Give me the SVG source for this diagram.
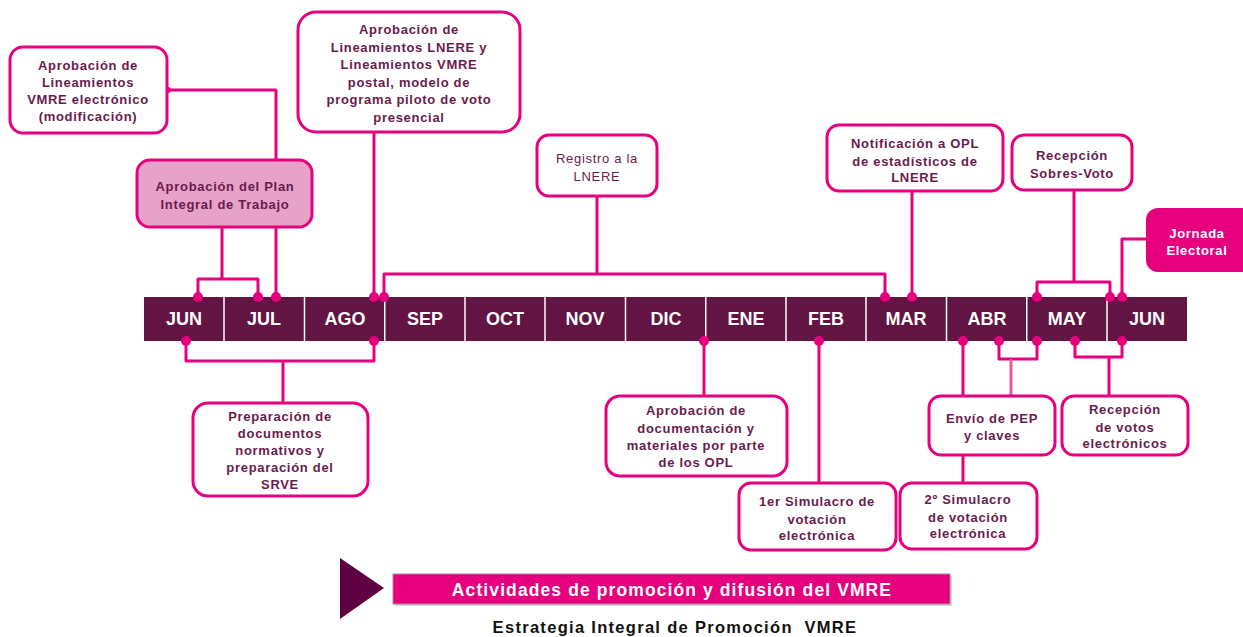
<svg xmlns="http://www.w3.org/2000/svg" width="1243" height="637" viewBox="0 0 1243 637">
<style>
.box{fill:#fff;stroke:#E6007E;stroke-width:3}
.t{font-family:"Liberation Sans",Arial,sans-serif;font-weight:bold;font-size:13px;fill:#6A1B4D;text-anchor:middle;letter-spacing:0.7px}
.n{font-weight:normal}
.w{fill:#fff}
.m{font-family:"Liberation Sans",Arial,sans-serif;font-weight:bold;font-size:18px;fill:#fff;text-anchor:middle}
.c{fill:none;stroke:#E6007E;stroke-width:3;stroke-linejoin:round}
.cl{fill:none;stroke:#E55AA8;stroke-width:3}
.d{fill:#E6007E}
.div{stroke:#fff;stroke-width:1.5}
</style>
<rect width="1243" height="637" fill="#fff"/>
<g id="connectors">
<path class="c" d="M167,90 H276 V297"/>
<path class="c" d="M222,227 V279 M198,297 V279 H258 V297"/>
<path class="c" d="M374,132 V297"/>
<path class="c" d="M597,196 V274 M384,297 V274 H885 V297"/>
<path class="c" d="M912,191 V297"/>
<path class="c" d="M1074,190 V282 M1037,297 V282 H1110 V297"/>
<path class="c" d="M1146,239 H1122 V297"/>
<path class="c" d="M186,341 V361 H374 V341 M283,361 V403"/>
<path class="c" d="M704,341 V396"/>
<path class="c" d="M819,341 V483"/>
<path class="c" d="M963,341 V396 M963,455 V483"/>
<path class="c" d="M999,341 V359 H1037 V341"/>
<path class="cl" d="M1011,359 V396"/>
<path class="c" d="M1075,341 V357 H1122 V341 M1109,357 V396"/>
</g>
<g id="timeline">
<rect x="144" y="297" width="1043" height="44" fill="#621442"/>
<g class="div">
<line x1="224" y1="297" x2="224" y2="341"/><line x1="304.5" y1="297" x2="304.5" y2="341"/>
<line x1="384.75" y1="297" x2="384.75" y2="341"/><line x1="465" y1="297" x2="465" y2="341"/>
<line x1="545" y1="297" x2="545" y2="341"/><line x1="625.5" y1="297" x2="625.5" y2="341"/>
<line x1="705.75" y1="297" x2="705.75" y2="341"/><line x1="786" y1="297" x2="786" y2="341"/>
<line x1="866" y1="297" x2="866" y2="341"/><line x1="946.5" y1="297" x2="946.5" y2="341"/>
<line x1="1026.75" y1="297" x2="1026.75" y2="341"/><line x1="1107" y1="297" x2="1107" y2="341"/>
</g>
<text class="m" x="184" y="325">JUN</text>
<text class="m" x="264" y="325">JUL</text>
<text class="m" x="345" y="325">AGO</text>
<text class="m" x="425" y="325">SEP</text>
<text class="m" x="505" y="325">OCT</text>
<text class="m" x="585" y="325">NOV</text>
<text class="m" x="666" y="325">DIC</text>
<text class="m" x="746" y="325">ENE</text>
<text class="m" x="826" y="325">FEB</text>
<text class="m" x="906" y="325">MAR</text>
<text class="m" x="987" y="325">ABR</text>
<text class="m" x="1067" y="325">MAY</text>
<text class="m" x="1147" y="325">JUN</text>
</g>
<g id="dots">
<circle class="d" cx="198" cy="297" r="5"/><circle class="d" cx="258" cy="297" r="5"/>
<circle class="d" cx="276" cy="297" r="5"/><circle class="d" cx="374" cy="297" r="5"/>
<circle class="d" cx="384" cy="297" r="5"/><circle class="d" cx="885" cy="297" r="5"/>
<circle class="d" cx="912" cy="297" r="5"/><circle class="d" cx="1037" cy="297" r="5"/>
<circle class="d" cx="1110" cy="297" r="5"/><circle class="d" cx="1122" cy="297" r="5"/>
<circle class="d" cx="186" cy="341" r="5"/><circle class="d" cx="374" cy="341" r="5"/>
<circle class="d" cx="704" cy="341" r="5"/><circle class="d" cx="819" cy="341" r="5"/>
<circle class="d" cx="963" cy="341" r="5"/><circle class="d" cx="999" cy="341" r="5"/>
<circle class="d" cx="1037" cy="341" r="5"/><circle class="d" cx="1075" cy="341" r="5"/>
<circle class="d" cx="1122" cy="341" r="5"/>
<circle class="d" cx="168" cy="90" r="3"/>
</g>
<g id="n-lineamientos-vmre">
<rect class="box" x="10" y="47" width="157" height="86" rx="13"/>
<text class="t" x="88" y="70">Aprobación de<tspan x="88" dy="17">Lineamientos</tspan><tspan x="88" dy="17">VMRE electrónico</tspan><tspan x="88" dy="17">(modificación)</tspan></text>
</g>
<g id="n-plan">
<rect x="137" y="160" width="175" height="67" rx="13" fill="#E6A2C8" stroke="#E6007E" stroke-width="3"/>
<text class="t" x="225" y="191">Aprobación del Plan<tspan x="225" dy="18">Integral de Trabajo</tspan></text>
</g>
<g id="n-lineamientos-lnere">
<rect class="box" x="298" y="12" width="222" height="120" rx="18"/>
<text class="t" x="409" y="34">Aprobación de<tspan x="409" dy="17.5">Lineamientos LNERE y</tspan><tspan x="409" dy="17.5">Lineamientos VMRE</tspan><tspan x="409" dy="17.5">postal, modelo de</tspan><tspan x="409" dy="17.5">programa piloto de voto</tspan><tspan x="409" dy="17.5">presencial</tspan></text>
</g>
<g id="n-registro">
<rect class="box" x="537" y="135" width="120" height="61" rx="12"/>
<text class="t n" x="597" y="163">Registro a la<tspan x="597" dy="18">LNERE</tspan></text>
</g>
<g id="n-notificacion">
<rect class="box" x="827" y="125" width="176" height="66" rx="12"/>
<text class="t" x="915" y="148">Notificación a OPL<tspan x="915" dy="17.5">de estadísticos de</tspan><tspan x="915" dy="16.5">LNERE</tspan></text>
</g>
<g id="n-sobres">
<rect class="box" x="1012" y="135" width="120" height="55" rx="12"/>
<text class="t" x="1072" y="160">Recepción<tspan x="1072" dy="18">Sobres-Voto</tspan></text>
</g>
<g id="n-jornada">
<rect x="1146" y="208" width="120" height="64" rx="12" fill="#E6007E"/>
<text class="t w" x="1197" y="238">Jornada<tspan x="1197" dy="17">Electoral</tspan></text>
</g>
<g id="n-preparacion">
<rect class="box" x="193" y="403" width="175" height="93" rx="15"/>
<text class="t" x="280" y="421">Preparación de<tspan x="280" dy="17">documentos</tspan><tspan x="280" dy="17">normativos y</tspan><tspan x="280" dy="17">preparación del</tspan><tspan x="280" dy="17">SRVE</tspan></text>
</g>
<g id="n-documentacion">
<rect class="box" x="606" y="396" width="181" height="80" rx="14"/>
<text class="t" x="696" y="415">Aprobación de<tspan x="696" dy="18">documentación y</tspan><tspan x="696" dy="17">materiales por parte</tspan><tspan x="696" dy="17">de los OPL</tspan></text>
</g>
<g id="n-simulacro1">
<rect class="box" x="739" y="483" width="157" height="67" rx="12"/>
<text class="t" x="817" y="506">1er Simulacro de<tspan x="817" dy="17.5">votación</tspan><tspan x="817" dy="16">electrónica</tspan></text>
</g>
<g id="n-envio">
<rect class="box" x="929" y="396" width="126" height="59" rx="12"/>
<text class="t" x="992" y="423">Envío de PEP<tspan x="992" dy="17">y claves</tspan></text>
</g>
<g id="n-simulacro2">
<rect class="box" x="900" y="483" width="137" height="66" rx="12"/>
<text class="t" x="968" y="504">2º Simulacro<tspan x="968" dy="17.5">de votación</tspan><tspan x="968" dy="16">electrónica</tspan></text>
</g>
<g id="n-votos">
<rect class="box" x="1062" y="396" width="126" height="59" rx="12"/>
<text class="t" x="1125" y="414">Recepción<tspan x="1125" dy="18">de votos</tspan><tspan x="1125" dy="16">electrónicos</tspan></text>
</g>
<g id="banner">
<polygon points="340,558 384,588 340,619" fill="#5E0041"/>
<rect x="395" y="576" width="557" height="30" fill="#bbb" opacity="0.6"/>
<rect x="393" y="574" width="557" height="30" fill="#E6007E" stroke="#A08AA0" stroke-width="1"/>
<text x="672" y="596" font-family="Liberation Sans,Arial,sans-serif" font-weight="bold" font-size="17.5" letter-spacing="1.1" fill="#fff" text-anchor="middle">Actividades de promoción y difusión del VMRE</text>
<text x="675" y="633" xml:space="preserve" font-family="Liberation Sans,Arial,sans-serif" font-weight="bold" font-size="16.5" letter-spacing="1.3" fill="#111" text-anchor="middle">Estrategia Integral de Promoción  VMRE</text>
</g>
</svg>
